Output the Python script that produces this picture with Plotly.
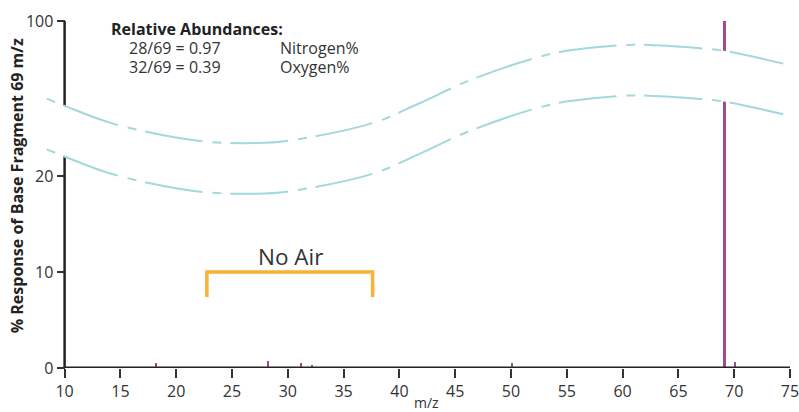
import plotly.graph_objects as go

# ---------------- data ----------------
peak_mz = [18.2, 28.2, 31.2, 32.2, 50.1, 69.1, 70.1]
peak_pct = [0.55, 0.76, 0.49, 0.34, 0.49, 100.0, 0.62]
peak_width = [0.18, 0.18, 0.18, 0.18, 0.18, 0.28, 0.18]

x_ticks = list(range(10, 80, 5))
y_tick_vals = [0, 10, 20, 100]
y_tick_text = ["0", "10", "20", "100"]

# axis-break waves (m/z, plotted units)
wave_x = [8.40, 9.88, 14.34, 22.13, 27.21, 29.90, 37.64, 41.85, 46.51,
          53.77, 58.88, 61.57, 66.68, 69.19, 74.39]
wave_top = [28.06, 27.37, 25.46, 23.65, 23.44, 23.65, 25.53, 27.61, 30.07,
            32.78, 33.54, 33.68, 33.33, 33.02, 31.71]
wave_gap = 5.28

# "No Air" bracket
bracket_x = [22.75, 22.75, 37.6, 37.6]
bracket_y = [7.4, 10.0, 10.0, 7.4]

# ---------------- scale ----------------
BREAK = 20.0
UPPER_SPAN = 16.15  # plotted units used by 20..100


def to_plot(v):
    if v <= BREAK:
        return v
    return BREAK + (v - BREAK) * UPPER_SPAN / 80.0


Y_TOP = to_plot(100)
X_MIN, X_MAX = 8.154, 75.18

PURPLE = "#A4498F"
CYAN = "#A3D8DC"
ORANGE = "#F9B232"
TXT = "#333333"
FONT = "Open Sans"

fig = go.Figure()

fig.add_trace(go.Bar(
    x=peak_mz, y=[to_plot(v) for v in peak_pct], width=peak_width,
    marker=dict(color=PURPLE, line=dict(width=0)), hoverinfo="skip"))

wave_bottom = [v - wave_gap for v in wave_top]

# white band between the break lines
fig.add_trace(go.Scatter(x=wave_x, y=wave_top, mode="lines",
                         line=dict(width=0, shape="spline", color="white"),
                         hoverinfo="skip"))
fig.add_trace(go.Scatter(x=wave_x, y=wave_bottom, mode="lines", fill="tonexty",
                         fillcolor="white",
                         line=dict(width=0, shape="spline", color="white"),
                         hoverinfo="skip"))
for yy in (wave_top, wave_bottom):
    fig.add_trace(go.Scatter(x=wave_x, y=yy, mode="lines",
                             line=dict(width=2, shape="spline", color=CYAN,
                                       dash="9px,9px,58px,10px"),
                             hoverinfo="skip"))

fig.add_trace(go.Scatter(x=bracket_x, y=bracket_y, mode="lines",
                         line=dict(width=3.5, color=ORANGE), hoverinfo="skip"))

# axis lines
fig.add_shape(type="line", xref="x", yref="y", x0=10, x1=10, y0=0, y1=Y_TOP,
              line=dict(color="#222222", width=2.5), layer="below")
fig.add_shape(type="line", xref="x", yref="y", x0=10, x1=75, y0=0, y1=0,
              line=dict(color="#222222", width=3), layer="above")

W, H = 799, 412
PLOT_LEFT, PLOT_RIGHT, PLOT_TOP, PLOT_BOTTOM = 44, 792, 20.5, 368  # page px
L = PLOT_LEFT
R = W - PLOT_RIGHT
T = PLOT_TOP
B = H - PLOT_BOTTOM
pw, ph = PLOT_RIGHT - PLOT_LEFT, PLOT_BOTTOM - PLOT_TOP


def px_x(px):
    return (px - PLOT_LEFT) / pw


def px_y(py):
    return (PLOT_BOTTOM - py) / ph


fig.update_layout(
    width=W, height=H, autosize=False,
    margin=dict(l=L, r=R, t=T, b=B, pad=0, autoexpand=False),
    paper_bgcolor="white", plot_bgcolor="white",
    showlegend=False, bargap=0,
    font=dict(family=FONT, color=TXT, size=16),
    xaxis=dict(range=[X_MIN, X_MAX], tickvals=x_ticks,
               ticktext=[str(v) for v in x_ticks], automargin=False,
               ticklabeloverflow="allow",
               showgrid=False, zeroline=False, showline=False,
               ticks="outside", ticklen=9, tickwidth=1.5, tickcolor="#333333",
               tickfont=dict(size=16, color=TXT, family=FONT)),
    yaxis=dict(range=[0, Y_TOP], tickvals=[to_plot(v) for v in y_tick_vals],
               ticktext=y_tick_text, anchor="free", automargin=False,
               ticklabeloverflow="allow",
               position=(10 - X_MIN) / (X_MAX - X_MIN),
               showgrid=False, zeroline=False, showline=False,
               ticks="outside", ticklen=8, tickwidth=1.5, tickcolor="#333333",
               tickfont=dict(size=16, color=TXT, family=FONT)),
)

ann = [
    dict(text="<b>% Response of Base Fragment 69 m/z</b>", x=px_x(17), y=px_y(186),
         textangle=-90, font=dict(size=16, color="#222222")),
    dict(text="m/z", x=px_x(426), y=px_y(403), font=dict(size=14)),
    dict(text="<b>Relative Abundances:</b>", x=px_x(109), y=px_y(29),
         xanchor="left", font=dict(size=16, color="#222222")),
    dict(text="28/69 = 0.97", x=px_x(127), y=px_y(48), xanchor="left",
         font=dict(size=16)),
    dict(text="Nitrogen%", x=px_x(278), y=px_y(48), xanchor="left",
         font=dict(size=16)),
    dict(text="32/69 = 0.39", x=px_x(127), y=px_y(67), xanchor="left",
         font=dict(size=16)),
    dict(text="Oxygen%", x=px_x(278), y=px_y(67), xanchor="left",
         font=dict(size=16)),
    dict(text="No Air", x=px_x(290), y=px_y(256), font=dict(size=22.5)),
]
for a in ann:
    a.update(xref="paper", yref="paper", showarrow=False)
    a.setdefault("xanchor", "center")
    a["yanchor"] = "middle"
fig.update_layout(annotations=ann)

fig.write_html(
    "out.html",
    config={"displayModeBar": False},
    post_script="document.body.style.margin='0';"
                "document.body.style.overflow='hidden';",
)
